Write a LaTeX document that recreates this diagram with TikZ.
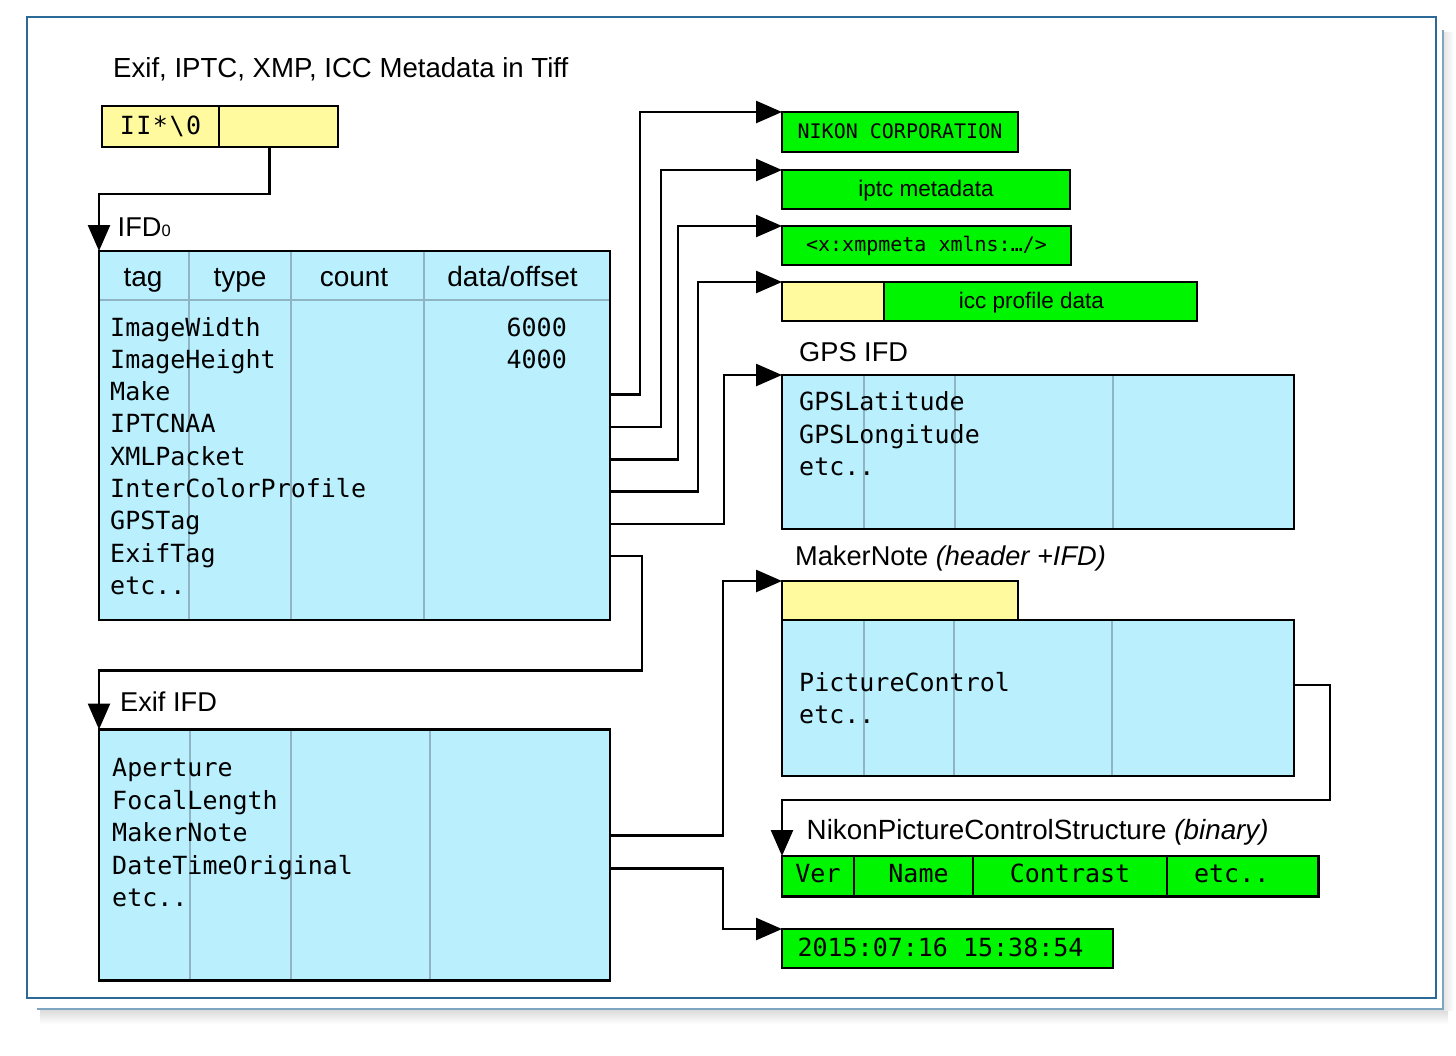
\documentclass[tikz,border=0pt]{standalone}
\usepackage{fontspec}
\setmainfont{Liberation Sans}
\setmonofont{DejaVu Sans Mono}
\newfontfamily\widemono[LetterSpace=6]{DejaVu Sans Mono}
\usetikzlibrary{arrows.meta,calc}

\definecolor{ifdblue}{RGB}{186,240,253}
\definecolor{datagreen}{RGB}{0,245,0}
\definecolor{hdryellow}{RGB}{255,250,157}
\definecolor{gridline}{RGB}{143,180,196}
\definecolor{frameblue}{RGB}{45,105,150}
\definecolor{frameshadow}{RGB}{126,166,192}

\newcommand\mkrowfont{\ttfamily\fontsize{25}{30}\selectfont}
\newcommand\mksmallmono{\ttfamily\fontsize{20}{24}\selectfont}
\newcommand\mklblfont{\fontsize{27.2}{30}\selectfont}
\newcommand\mkhdrfont{\fontsize{28}{32}\selectfont}
\newcommand\mkdatafont{\fontsize{22.5}{26}\selectfont}

\tikzset{
  box/.style={draw=black, line width=2.6pt, inner sep=0pt, outer sep=0pt, anchor=north west},
  ifd/.style={box, fill=ifdblue},
  databox/.style={box, fill=datagreen},
  hdrbox/.style={box, fill=hdryellow},
  col/.style={draw=gridline, line width=2pt},
  wire/.style={line width=2.6pt},
  link/.style={wire, -{Triangle[length=26pt,width=22pt]}},
  row/.style={font=\mkrowfont, text height=18pt, text depth=6pt, inner sep=0pt, anchor=west},
  lbl/.style={font=\mklblfont, inner sep=0pt, anchor=base west},
  colhead/.style={font=\mkhdrfont, inner sep=0pt, anchor=base},
}

\begin{document}
\begin{tikzpicture}[x=1pt, y=-1pt]
\useasboundingbox (0,0) rectangle (1456,1055);

% outer frame with its drop shadow
\shade[top color=black!14, bottom color=white] (40,1010) rectangle (1448,1024);
\shade[left color=black!10, right color=white] (1444,32) rectangle (1454,1010);
\draw[frameshadow, line width=2.4pt] (1443,30) -- (1443,1009) -- (37,1009);
\draw[frameblue, line width=2.4pt] (27,17) rectangle (1436,998);

% title
\node[lbl, font=\fontsize{27.6}{30}\selectfont] (title) at (113,77) {Exif, IPTC, XMP, ICC Metadata in Tiff};

% TIFF header
\node[hdrbox, minimum width=117pt, minimum height=41pt, font=\widemono\fontsize{25}{30}\selectfont, text height=18pt, text depth=2pt] (tiffa) at (102,106) {II*\textbackslash0};
\node[hdrbox, minimum width=119pt, minimum height=41pt] (tiffb) at (219,106) {};

% IFD0
\node[lbl] (ifd0lbl) at (117.5,236.5) {IFD{\fontsize{16.5}{18}\selectfont 0}};
\node[ifd, minimum width=511pt, minimum height=369pt] (ifd0) at (99,251) {};
\draw[col] ($(ifd0.north west)+(1.3,49)$) -- ($(ifd0.north east)+(-1.3,49)$);
\foreach \x in {189,291,424} \draw[col] (\x,252.3) -- (\x,618.7);
\node[colhead] (htag) at (143,286.7) {tag};
\node[colhead] (htype) at (240,286.7) {type};
\node[colhead] (hcount) at (354,286.7) {count};
\node[colhead] (hdata) at (512.5,286.7) {data/offset};
\foreach \nm/\txt [count=\i from 0] in {iw/ImageWidth, ih/ImageHeight, make/Make, iptc/IPTCNAA, xmp/XMLPacket, icp/InterColorProfile, gps/GPSTag, exif/ExifTag, etca/etc..}
  \node[row] (\nm) at (110,{330+32.3*\i}) {\txt};
\node[row, anchor=east] (vw) at (567,330) {6000};
\node[row, anchor=east] (vh) at (567,362.3) {4000};

% data blocks referenced from IFD0
\node[databox, minimum width=236pt, minimum height=40pt, font=\mksmallmono, text height=14pt, text depth=2pt] (nikon) at (782,112) {NIKON CORPORATION};
\node[databox, minimum width=288pt, minimum height=39pt, font=\mkdatafont, text height=15pt, text depth=2pt] (iptcdata) at (782,170) {iptc metadata};
\node[databox, minimum width=289pt, minimum height=39pt, font=\mksmallmono, text height=14pt, text depth=2pt] (xmpdata) at (782,226) {<x:xmpmeta xmlns:…/>};
\node[hdrbox, minimum width=102pt, minimum height=39pt] (iccpad) at (782,282) {};
\node[databox, minimum width=313pt, minimum height=39pt, font=\mkdatafont, text height=15pt, text depth=2pt] (iccdata) at (884,282) {icc profile data\hspace{18pt}\null};

% GPS IFD
\node[lbl] (gpslbl) at (799,361.7) {GPS IFD};
\node[ifd, minimum width=512pt, minimum height=154pt] (gpsifd) at (782,375) {};
\foreach \x in {864,954.5,1112.5} \draw[col] (\x,376.3) -- (\x,527.7);
\foreach \nm/\txt [count=\i from 0] in {glat/GPSLatitude, glon/GPSLongitude, getc/etc..}
  \node[row] (\nm) at (799,{404.7+32.5*\i}) {\txt};

% MakerNote
\node[lbl] (mnlbl) at (795,565) {MakerNote \textit{(header +IFD)}};
\node[hdrbox, minimum width=236pt, minimum height=39pt] (mnhdr) at (782,581) {};
\node[ifd, minimum width=512pt, minimum height=156pt] (mnifd) at (782,620) {};
\foreach \x in {864,953.5,1112} \draw[col] (\x,621.3) -- (\x,774.7);
\node[row] (pc) at (799,685) {PictureControl};
\node[row] (mnetc) at (799,717.5) {etc..};

% NikonPictureControlStructure
\node[lbl, font=\fontsize{27.8}{30}\selectfont] (npcslbl) at (806.5,839) {NikonPictureControlStructure \textit{(binary)}};
\tikzset{cell/.style={databox, minimum height=40.5pt, font=\mkrowfont, text height=17pt, text depth=4pt}}
\node[cell, minimum width=72pt] (npver) at (782,856) {Ver};
\node[cell, minimum width=119pt] (npname) at (854,856) {\hspace{10pt}Name};
\node[cell, minimum width=194pt] (npcontrast) at (973,856) {Contrast};
\node[cell, minimum width=151.5pt] (npetc) at (1167,856) {etc..\hspace{22pt}\null};

% DateTimeOriginal value
\node[databox, minimum width=331pt, minimum height=39pt, font=\mkrowfont, text height=18pt, text depth=2pt] (date) at (782,929) {2015:07:16 15:38:54\hspace{14pt}\null};

% Exif IFD
\node[lbl] (exiflbl) at (120,711.7) {Exif IFD};
\node[ifd, minimum width=511pt, minimum height=251pt] (exififd) at (99,729.5) {};
\foreach \x in {189.5,291,429.5} \draw[col] (\x,730.8) -- (\x,979.2);
\foreach \nm/\txt [count=\i from 0] in {ap/Aperture, fl/FocalLength, mkn/MakerNote, dto/DateTimeOriginal, eetc/etc..}
  \node[row] (\nm) at (112,{770.7+32.5*\i}) {\txt};

% connectors
\coordinate (ifd0bend) at (99,194);
\draw[link] ($(tiffb.south)+(-9,0)$) |- (ifd0bend) -- (ifd0.north west);
\draw[link] (make -| ifd0.east) -- ++(30,0) |- (nikon.north west);
\draw[link] (iptc -| ifd0.east) -- ++(51,0) |- (iptcdata.north west);
\draw[link] (xmp -| ifd0.east) -- ++(68,0) |- (xmpdata.north west);
\draw[link] (icp -| ifd0.east) -- ++(88,0) |- (iccpad.north west);
\draw[link] (gps -| ifd0.east) -- ++(114,0) |- (gpsifd.north west);
\coordinate (exifbend) at (642,670.5);
\draw[link] (exif -| ifd0.east) -| (exifbend) -| (exififd.north west);
\draw[link] (mkn -| exififd.east) -- ++(113,0) |- (mnhdr.north west);
\draw[link] (dto -| exififd.east) -- ++(113,0) |- (date.north west);
\draw[link] (pc -| mnifd.east) -- ++(36,0) |- ($(npver.north west)+(0,-56)$) -- (npver.north west);
\end{tikzpicture}
\end{document}
